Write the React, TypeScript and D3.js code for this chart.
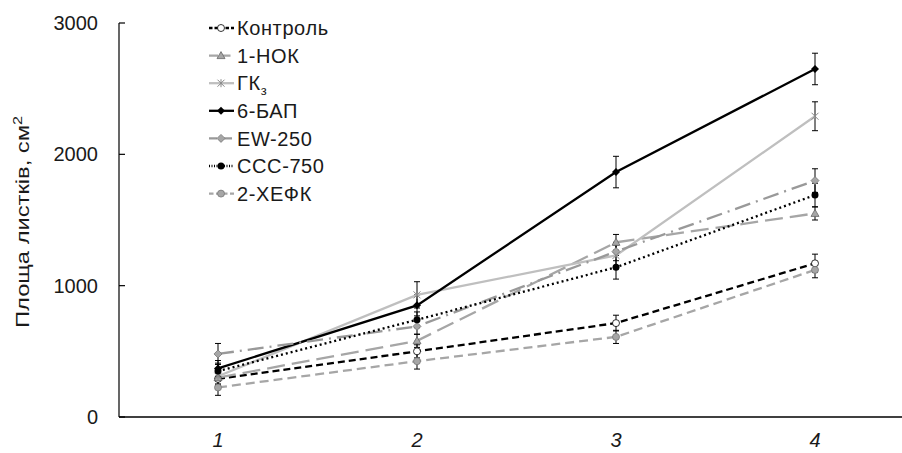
import * as d3 from "d3";

const categories = ["1", "2", "3", "4"];

const seriesNames = ["Контроль", "1-НОК", "ГК3", "6-БАП", "EW-250", "ССС-750", "2-ХЕФК"];
const control = [290, 500, 715, 1170];
const controlErr = [50, 50, 60, 70];
const nok = [300, 580, 1330, 1550];
const nokErr = [50, 50, 60, 50];
const gk3 = [310, 930, 1230, 2290];
const gk3Err = [60, 100, 80, 110];
const bap = [370, 850, 1865, 2650];
const bapErr = [60, 80, 120, 120];
const ew = [480, 690, 1260, 1800];
const ewErr = [80, 60, 70, 90];
const ccc = [350, 740, 1140, 1690];
const cccErr = [60, 60, 90, 90];
const hefk = [225, 425, 610, 1120];
const hefkErr = [60, 60, 50, 60];

const yTicks = [0, 1000, 2000, 3000];

type Style = {
  stroke: string;
  width: number;
  dash: string;
  marker: "circleOpen" | "triangle" | "star" | "diamondBlack" | "diamond" | "circleBlack" | "circleGray";
};

const styles: Style[] = [
  { stroke: "#000", width: 2.3, dash: "7,4", marker: "circleOpen" },
  { stroke: "#a6a6a6", width: 2.3, dash: "18,7", marker: "triangle" },
  { stroke: "#bfbfbf", width: 2.3, dash: "", marker: "star" },
  { stroke: "#000", width: 2.3, dash: "", marker: "diamondBlack" },
  { stroke: "#999", width: 2.3, dash: "16,6,2,6", marker: "diamond" },
  { stroke: "#000", width: 2.3, dash: "2,3", marker: "circleBlack" },
  { stroke: "#a6a6a6", width: 2.3, dash: "9,5", marker: "circleGray" },
];

const values = [control, nok, gk3, bap, ew, ccc, hefk];
const errors = [controlErr, nokErr, gk3Err, bapErr, ewErr, cccErr, hefkErr];

const W = 902;
const H = 453;
const left = 119;
const top = 23;
const bottom = 417;
const FONT = "'Liberation Sans', Arial, sans-serif";
const TEXT = "#1a1a1a";

function Marker({ kind, x, y }: { kind: Style["marker"]; x: number; y: number }) {
  switch (kind) {
    case "circleOpen":
      return <circle cx={x} cy={y} r={3.5} fill="#fff" stroke="#000" strokeWidth={0.8} />;
    case "triangle":
      return (
        <path
          d={`M${x},${y - 4}L${x + 4},${y + 3}L${x - 4},${y + 3}Z`}
          fill="#a6a6a6"
          stroke="#666"
          strokeWidth={0.8}
        />
      );
    case "star":
      return (
        <g stroke="#888" strokeWidth={1}>
          <line x1={x - 3.5} y1={y - 3.5} x2={x + 3.5} y2={y + 3.5} />
          <line x1={x - 3.5} y1={y + 3.5} x2={x + 3.5} y2={y - 3.5} />
          <line x1={x} y1={y - 4} x2={x} y2={y + 4} />
        </g>
      );
    case "diamondBlack":
      return <path d={`M${x},${y - 4}L${x + 4},${y}L${x},${y + 4}L${x - 4},${y}Z`} fill="#000" />;
    case "diamond":
      return (
        <path
          d={`M${x},${y - 4}L${x + 4},${y}L${x},${y + 4}L${x - 4},${y}Z`}
          fill="#a6a6a6"
          stroke="#777"
          strokeWidth={0.8}
        />
      );
    case "circleBlack":
      return <circle cx={x} cy={y} r={3.5} fill="#000" />;
    case "circleGray":
      return <circle cx={x} cy={y} r={3.5} fill="#a6a6a6" stroke="#777" strokeWidth={0.8} />;
  }
}

function LegendLabel({ name }: { name: string }) {
  if (name === "ГК3") {
    return (
      <>
        ГК
        <tspan fontSize={13} dy={5}>
          з
        </tspan>
      </>
    );
  }
  return <>{name}</>;
}

export default function App() {
  const x = d3.scalePoint<string>().domain(categories).range([218, 815]);
  const y = d3.scaleLinear().domain([0, 3000]).range([bottom, top]);
  const line = d3
    .line<number>()
    .x((_, i) => x(categories[i]) as number)
    .y((d) => y(d));

  return (
    <svg
      width={W}
      height={H}
      style={{ position: "absolute", left: 0, top: 0, background: "#fff" }}
      fontFamily={FONT}
    >
      <rect width={W} height={H} fill="#fff" />
      {/* axes */}
      <line x1={left} y1={top} x2={left} y2={bottom} stroke="#000" strokeWidth={1.2} />
      <line x1={left} y1={bottom} x2={W} y2={bottom} stroke="#000" strokeWidth={1.5} />
      {yTicks.map((t) => (
        <g key={t}>
          <line x1={left} x2={left + 6} y1={y(t)} y2={y(t)} stroke="#000" strokeWidth={1.2} />
          <text x={98} y={y(t)} dy="0.35em" textAnchor="end" fontSize={20} fill={TEXT}>
            {t}
          </text>
        </g>
      ))}
      {categories.map((c) => (
        <text key={c} x={x(c)} y={447} textAnchor="middle" fontSize={20} fontStyle="italic" fill={TEXT}>
          {c}
        </text>
      ))}
      <text
        transform={`translate(29,${222}) rotate(-90)`}
        textAnchor="middle"
        fontSize={19}
        fill={TEXT}
        textLength={212}
        lengthAdjust="spacingAndGlyphs"
      >
        Площа листків, см
        <tspan fontSize={13} dy={-7}>
          2
        </tspan>
      </text>

      {/* error bars */}
      {values.map((vals, si) =>
        vals.map((v, i) => {
          const cx = x(categories[i]) as number;
          const e = errors[si][i];
          return (
            <g key={`e${si}-${i}`} stroke="#000" strokeWidth={1}>
              <line x1={cx} x2={cx} y1={y(v + e)} y2={y(v - e)} />
              <line x1={cx - 3} x2={cx + 3} y1={y(v + e)} y2={y(v + e)} />
              <line x1={cx - 3} x2={cx + 3} y1={y(v - e)} y2={y(v - e)} />
            </g>
          );
        })
      )}

      {/* lines */}
      {values.map((vals, si) => (
        <path
          key={`l${si}`}
          d={line(vals) ?? ""}
          fill="none"
          stroke={styles[si].stroke}
          strokeWidth={styles[si].width}
          strokeDasharray={styles[si].dash}
        />
      ))}

      {/* markers */}
      {values.map((vals, si) =>
        vals.map((v, i) => (
          <Marker key={`m${si}-${i}`} kind={styles[si].marker} x={x(categories[i]) as number} y={y(v)} />
        ))
      )}

      {/* legend */}
      {seriesNames.map((name, si) => {
        const ly = 28 + si * 27.6;
        return (
          <g key={name}>
            <line
              x1={209}
              x2={234}
              y1={ly}
              y2={ly}
              stroke={styles[si].stroke}
              strokeWidth={styles[si].width}
              strokeDasharray={styles[si].dash ? styles[si].dash.split(",").map((d) => +d * 0.5).join(",") : ""}
            />
            <Marker kind={styles[si].marker} x={221} y={ly} />
            <text x={237} y={ly} dy="0.36em" fontSize={20} letterSpacing={0.6} fill={TEXT}>
              <LegendLabel name={name} />
            </text>
          </g>
        );
      })}
    </svg>
  );
}
